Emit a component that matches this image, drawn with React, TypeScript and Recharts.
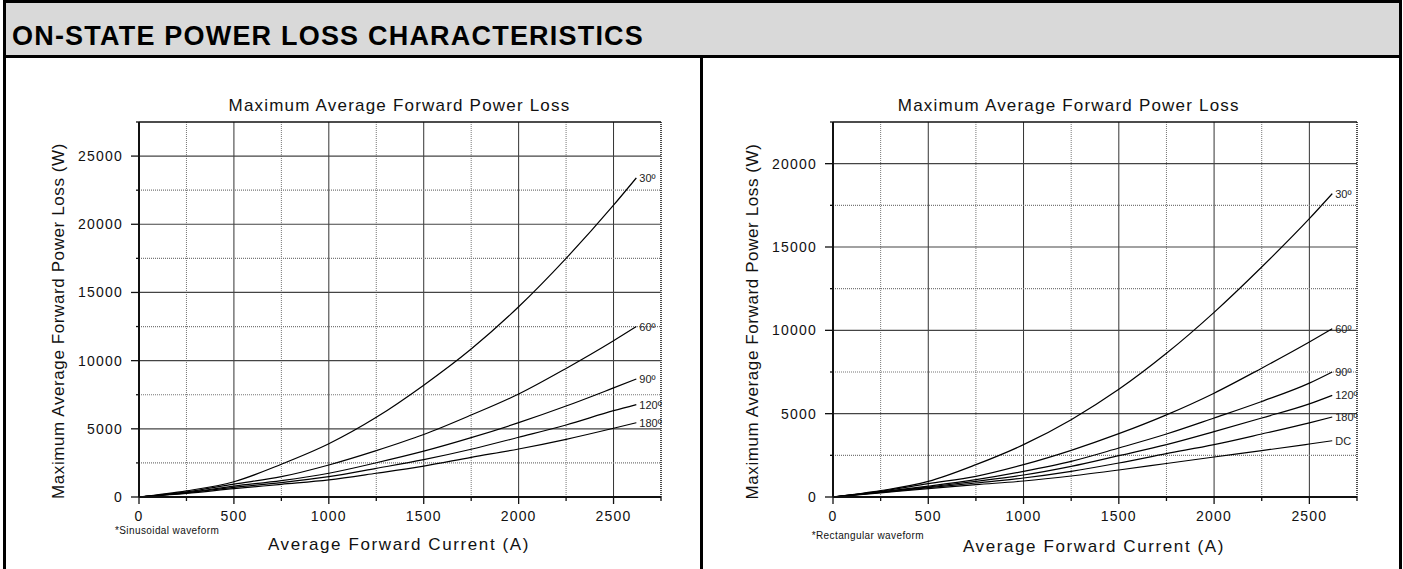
import React from 'react';
import { LineChart, Line, XAxis, YAxis, ReferenceLine } from 'recharts';

// average forward current (A), shared by both plots
const CURRENT = [0, 250, 500, 750, 1000, 1250, 1500, 1750, 2000, 2250, 2500, 2620];

// sinusoidal waveform, power loss (W)
const SIN_30 = [0, 450, 1120, 2400, 3900, 5840, 8200, 10850, 13950, 17500, 21400, 23400];
const SIN_60 = [0, 380, 950, 1490, 2350, 3400, 4580, 6010, 7550, 9430, 11460, 12500];
const SIN_90 = [0, 330, 800, 1200, 1740, 2510, 3360, 4350, 5450, 6670, 8000, 8650];
const SIN_120 = [0, 300, 710, 1050, 1490, 2100, 2740, 3500, 4380, 5280, 6330, 6780];
const SIN_180 = [0, 270, 610, 930, 1250, 1740, 2270, 2910, 3520, 4230, 5040, 5450];
const SIN_LABELS = ['30º', '60º', '90º', '120º', '180º'];

// rectangular waveform, power loss (W)
const RECT_30 = [0, 380, 935, 1940, 3140, 4640, 6460, 8620, 11080, 13800, 16700, 18200];
const RECT_60 = [0, 340, 800, 1240, 1940, 2800, 3800, 4930, 6230, 7730, 9300, 10100];
const RECT_90 = [0, 310, 650, 1040, 1540, 2140, 2940, 3780, 4740, 5730, 6830, 7500];
const RECT_120 = [0, 290, 600, 940, 1320, 1840, 2480, 3140, 3920, 4740, 5590, 6100];
const RECT_180 = [0, 270, 560, 840, 1140, 1540, 2040, 2600, 3140, 3780, 4450, 4800];
const RECT_DC = [0, 250, 500, 740, 960, 1260, 1620, 2010, 2400, 2780, 3180, 3375];
const RECT_LABELS = ['30º', '60º', '90º', '120º', '180º', 'DC'];

const X_TICKS = [0, 250, 500, 750, 1000, 1250, 1500, 1750, 2000, 2250, 2500, 2750];
const SIN_Y_TICKS = [0, 2500, 5000, 7500, 10000, 12500, 15000, 17500, 20000, 22500, 25000, 27500];
const RECT_Y_TICKS = [0, 2500, 5000, 7500, 10000, 12500, 15000, 17500, 20000, 22500];

const FONT = '"Liberation Sans", Arial, Helvetica, sans-serif';

function buildRows(series: number[][]) {
  return CURRENT.map((c, i) => {
    const row: Record<string, number> = { current: c };
    series.forEach((s, k) => {
      row['s' + k] = s[i];
    });
    return row;
  });
}

const XTick = (props: any) => {
  const { x, y, payload } = props;
  const v = payload.value;
  const major = v % 500 === 0;
  const showText = major && v < 2750;
  return (
    <g>
      <line x1={x} y1={y} x2={x} y2={y + (major ? 7 : 4)} stroke="#111" strokeWidth={1.3} />
      {showText && (
        <text x={x} y={y + 24} textAnchor="middle" fontSize={14} letterSpacing={1.2} fill="#111" fontFamily={FONT}>
          {v}
        </text>
      )}
    </g>
  );
};

const makeYTick = (max: number) => (props: any) => {
  const { x, y, payload } = props;
  const v = payload.value;
  const major = v % 5000 === 0;
  const showText = major && v < max;
  return (
    <g>
      <line x1={x - (major ? 8 : 3)} y1={y} x2={x} y2={y} stroke="#111" strokeWidth={1.3} />
      {showText && (
        <text x={x - 16} y={y + 5} textAnchor="end" fontSize={14} letterSpacing={1.2} fill="#111" fontFamily={FONT}>
          {v}
        </text>
      )}
    </g>
  );
};

const endLabel = (text: string) => (p: any) => {
  if (p.index !== CURRENT.length - 1) return <g />;
  return (
    <text x={p.x + 3} y={p.y + 4} fontSize={11} fill="#222" fontFamily={FONT}>
      {text}
    </text>
  );
};

interface PanelProps {
  left: number;
  series: number[][];
  labels: string[];
  yTicks: number[];
  yMax: number;
  marginRight: number;
}

function Panel({ left, series, labels, yTicks, yMax, marginRight }: PanelProps) {
  const rows = buildRows(series);
  return (
    <div style={{ position: 'absolute', left, top: 0 }}>
      <LineChart width={700} height={569} data={rows} margin={{ top: 122, right: marginRight, bottom: 32, left: 79 }}>
        {X_TICKS.filter((v) => v > 0).map((v) => (
          <ReferenceLine
            key={'gx' + v}
            x={v}
            stroke={v === 2750 ? '#111' : v % 500 === 0 ? '#333' : '#777'}
            strokeWidth={v === 2750 ? 1.5 : 1}
            strokeDasharray={v % 500 === 0 ? undefined : '1 1'}
          />
        ))}
        {yTicks.filter((v) => v > 0).map((v) => (
          <ReferenceLine
            key={'gy' + v}
            y={v}
            stroke={v === yMax ? '#111' : v % 5000 === 0 ? '#444' : '#777'}
            strokeWidth={v === yMax ? 1.5 : 1.2}
            strokeDasharray={v % 5000 === 0 || v === yMax ? undefined : '1 1'}
          />
        ))}
        <XAxis
          type="number"
          dataKey="current"
          domain={[0, 2750]}
          ticks={X_TICKS}
          interval={0}
          tickSize={0}
          tickMargin={0}
          tickLine={false}
          tick={XTick}
          axisLine={{ stroke: '#111', strokeWidth: 2 }}
          height={40}
          allowDataOverflow
        />
        <YAxis
          type="number"
          domain={[0, yMax]}
          ticks={yTicks}
          interval={0}
          tickSize={0}
          tickMargin={0}
          tickLine={false}
          tick={makeYTick(yMax)}
          axisLine={{ stroke: '#111', strokeWidth: 2 }}
          width={60}
          allowDataOverflow
        />
        {series.map((_, k) => (
          <Line
            key={'s' + k}
            type="monotone"
            dataKey={'s' + k}
            stroke="#000"
            strokeWidth={1.2}
            dot={false}
            activeDot={false}
            isAnimationActive={false}
            label={endLabel(labels[k])}
          />
        ))}
      </LineChart>
    </div>
  );
}

export default function App() {
  return (
    <div
      style={{
        position: 'absolute',
        left: 0,
        top: 0,
        width: 1403,
        height: 569,
        overflow: 'hidden',
        background: '#fff',
        fontFamily: FONT,
      }}
    >
      {/* header band and frame */}
      <div style={{ position: 'absolute', left: 3, top: 2, width: 1399, height: 55, background: '#d9d9d9' }} />
      <div style={{ position: 'absolute', left: 3, top: 0, width: 1399, height: 3, background: '#000' }} />
      <div style={{ position: 'absolute', left: 3, top: 55, width: 1399, height: 3, background: '#000' }} />
      <div style={{ position: 'absolute', left: 3, top: 0, width: 3, height: 569, background: '#000' }} />
      <div style={{ position: 'absolute', left: 1399, top: 0, width: 3, height: 569, background: '#000' }} />
      <div style={{ position: 'absolute', left: 700, top: 57, width: 3, height: 512, background: '#000' }} />

      <Panel
        left={0}
        series={[SIN_30, SIN_60, SIN_90, SIN_120, SIN_180]}
        labels={SIN_LABELS}
        yTicks={SIN_Y_TICKS}
        yMax={27500}
        marginRight={39}
      />
      <Panel
        left={694}
        series={[RECT_30, RECT_60, RECT_90, RECT_120, RECT_180, RECT_DC]}
        labels={RECT_LABELS}
        yTicks={RECT_Y_TICKS}
        yMax={22500}
        marginRight={37}
      />

      <svg width={1403} height={569} style={{ position: 'absolute', left: 0, top: 0, pointerEvents: 'none' }}>
        <text x={12} y={45} fontSize={27} fontWeight="bold" letterSpacing={1.2} fill="#000" fontFamily={FONT}>
          ON-STATE POWER LOSS CHARACTERISTICS
        </text>

        <text x={399.5} y={111} textAnchor="middle" fontSize={17} letterSpacing={1.2} fill="#111" fontFamily={FONT}>
          Maximum Average Forward Power Loss
        </text>
        <text
          x={63.5}
          y={321}
          transform="rotate(-90 63.5 321)"
          textAnchor="middle"
          fontSize={17}
          letterSpacing={0.6}
          fill="#111"
          fontFamily={FONT}
        >
          Maximum Average Forward Power Loss (W)
        </text>
        <text x={399} y={550} textAnchor="middle" fontSize={17} letterSpacing={1.6} fill="#111" fontFamily={FONT}>
          Average Forward Current (A)
        </text>
        <text x={115} y={534} fontSize={10} letterSpacing={0.4} fill="#111" fontFamily={FONT}>
          *Sinusoidal waveform
        </text>

        <text x={1068.8} y={111} textAnchor="middle" fontSize={17} letterSpacing={1.2} fill="#111" fontFamily={FONT}>
          Maximum Average Forward Power Loss
        </text>
        <text
          x={757.5}
          y={321.5}
          transform="rotate(-90 757.5 321.5)"
          textAnchor="middle"
          fontSize={17}
          letterSpacing={0.6}
          fill="#111"
          fontFamily={FONT}
        >
          Maximum Average Forward Power Loss (W)
        </text>
        <text x={1094} y={552} textAnchor="middle" fontSize={17} letterSpacing={1.6} fill="#111" fontFamily={FONT}>
          Average Forward Current (A)
        </text>
        <text x={811.7} y={539} fontSize={10} letterSpacing={0.4} fill="#111" fontFamily={FONT}>
          *Rectangular waveform
        </text>
      </svg>
    </div>
  );
}
